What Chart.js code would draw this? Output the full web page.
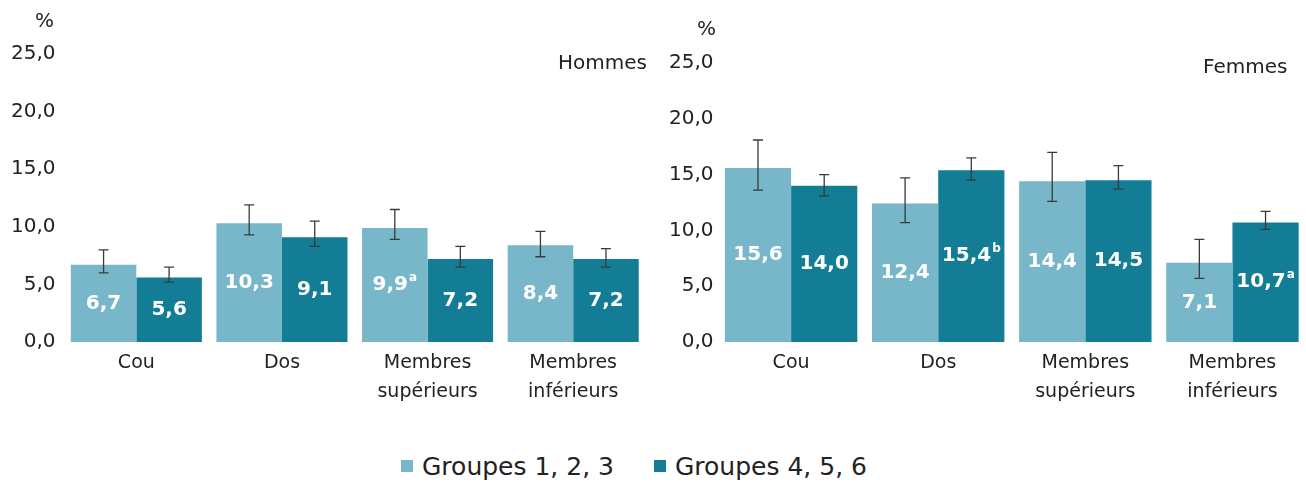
<!DOCTYPE html>
<html>
<head>
<meta charset="utf-8">
<script src="https://cdn.jsdelivr.net/npm/chart.js@4/dist/chart.umd.min.js"></script>
<style>
  body { margin: 0; background: #fff; width: 1306px; height: 485px; position: relative; overflow: hidden;
         font-family: "DejaVu Sans", sans-serif; color: #222; }
  .box { position: absolute; top: 0; width: 651px; height: 418px; }
  #boxH { left: 0; }
  #boxF { left: 655px; }
  .txt { position: absolute; font-size: 20px; line-height: 1; }
  #legend { position: absolute; top: 454px; left: 401px; display: flex; gap: 40px; font-size: 25px; line-height: 1; }
  #legend span.sq { display: inline-block; width: 12px; height: 12px; margin-right: 9px; vertical-align: 3px; }
</style>
</head>
<body>
<div class="box" id="boxH"><canvas id="chartH"></canvas></div>
<div class="box" id="boxF"><canvas id="chartF"></canvas></div>
<div class="txt" style="left:35px;top:10px;">%</div>
<div class="txt" style="left:697px;top:18px;">%</div>
<div class="txt" style="left:558px;top:52px;">Hommes</div>
<div class="txt" style="left:1203px;top:56px;">Femmes</div>
<div id="legend">
  <div><span class="sq" style="background:#78b7c9"></span>Groupes 1, 2, 3</div>
  <div><span class="sq" style="background:#127d95"></span>Groupes 4, 5, 6</div>
</div>
<script>
const categories = ['Cou', 'Dos', ['Membres', 'supérieurs'], ['Membres', 'inférieurs']];
const yTicks = [0, 5, 10, 15, 20, 25];

// Hommes
const hommesG123 = [6.7, 10.3, 9.9, 8.4];
const hommesG123Low = [6.0, 9.3, 8.9, 7.4];
const hommesG123High = [8.0, 11.9, 11.5, 9.6];
const hommesG123Sup = ['', '', 'a', ''];
const hommesG456 = [5.6, 9.1, 7.2, 7.2];
const hommesG456Low = [5.2, 8.3, 6.5, 6.5];
const hommesG456High = [6.5, 10.5, 8.3, 8.1];
const hommesG456Sup = ['', '', '', ''];

// Femmes
const femmesG123 = [15.6, 12.4, 14.4, 7.1];
const femmesG123Low = [13.6, 10.7, 12.6, 5.7];
const femmesG123High = [18.1, 14.7, 17.0, 9.2];
const femmesG123Sup = ['', '', '', ''];
const femmesG456 = [14.0, 15.4, 14.5, 10.7];
const femmesG456Low = [13.1, 14.5, 13.7, 10.1];
const femmesG456High = [15.0, 16.5, 15.8, 11.7];
const femmesG456Sup = ['', 'b', '', 'a'];

const light = '#78b7c9';
const dark = '#127d95';
const fontFamily = '"DejaVu Sans", sans-serif';

const fmt = v => v.toFixed(1).replace('.', ',');

// error bars + value labels
const barExtras = {
  id: 'barExtras',
  afterDatasetsDraw(chart) {
    const ctx = chart.ctx;
    const y = chart.scales.y;
    chart.data.datasets.forEach((ds, i) => {
      const meta = chart.getDatasetMeta(i);
      meta.data.forEach((bar, j) => {
        // value label
        const main = fmt(ds.data[j]);
        const sup = ds.sup[j];
        ctx.save();
        ctx.fillStyle = '#fff';
        ctx.textBaseline = 'middle';
        ctx.textAlign = 'left';
        ctx.font = 'bold 20px ' + fontFamily;
        const w = ctx.measureText(main).width;
        ctx.font = 'bold 12px ' + fontFamily;
        const sw = sup ? ctx.measureText(sup).width + 1 : 0;
        const x0 = bar.x - (w + sw) / 2;
        const cy = (bar.y + bar.base) / 2;
        ctx.font = 'bold 20px ' + fontFamily;
        ctx.fillText(main, x0, cy);
        if (sup) {
          ctx.font = 'bold 12px ' + fontFamily;
          ctx.fillText(sup, x0 + w + 1, cy - 7);
        }
        ctx.restore();

        // error bar
        const top = y.getPixelForValue(ds.high[j]);
        const bot = y.getPixelForValue(ds.low[j]);
        ctx.save();
        ctx.strokeStyle = '#3a3a3a';
        ctx.lineWidth = 1.3;
        ctx.beginPath();
        ctx.moveTo(bar.x, top); ctx.lineTo(bar.x, bot);
        ctx.moveTo(bar.x - 5, top); ctx.lineTo(bar.x + 5, top);
        ctx.moveTo(bar.x - 5, bot); ctx.lineTo(bar.x + 5, bot);
        ctx.stroke();
        ctx.restore();
      });
    });
  }
};

function makeChart(id, g123, g123Low, g123High, g123Sup, g456, g456Low, g456High, g456Sup, pad) {
  return new Chart(id, {
    type: 'bar',
    data: {
      labels: categories,
      datasets: [
        { label: 'Groupes 1, 2, 3', data: g123, low: g123Low, high: g123High, sup: g123Sup, backgroundColor: light },
        { label: 'Groupes 4, 5, 6', data: g456, low: g456Low, high: g456High, sup: g456Sup, backgroundColor: dark }
      ]
    },
    options: {
      responsive: true,
      maintainAspectRatio: false,
      animation: false,
      categoryPercentage: 0.9,
      barPercentage: 1.0,
      layout: { padding: pad },
      plugins: { legend: { display: false }, tooltip: { enabled: false } },
      scales: {
        x: {
          grid: { display: false, drawTicks: false },
          border: { display: false },
          ticks: { color: '#222', padding: 7, font: { family: fontFamily, size: 19, lineHeight: 1.5 } }
        },
        y: {
          min: 0, max: 25,
          afterBuildTicks: axis => { axis.ticks = yTicks.map(v => ({ value: v })); },
          grid: { display: false, drawTicks: false },
          border: { display: false },
          ticks: { color: '#222', padding: pad.tick, font: { family: fontFamily, size: 20 }, callback: v => fmt(v) }
        }
      }
    },
    plugins: [barExtras]
  });
}

makeChart('chartH', hommesG123, hommesG123Low, hommesG123High, hommesG123Sup,
  hommesG456, hommesG456Low, hommesG456High, hommesG456Sup,
  { top: 54, left: 3, right: 5, bottom: 5, tick: 8 });
makeChart('chartF', femmesG123, femmesG123Low, femmesG123High, femmesG123Sup,
  femmesG456, femmesG456Low, femmesG456High, femmesG456Sup,
  { top: 63, left: 10, right: 0, bottom: 5, tick: 4 });
</script>
</body>
</html>
